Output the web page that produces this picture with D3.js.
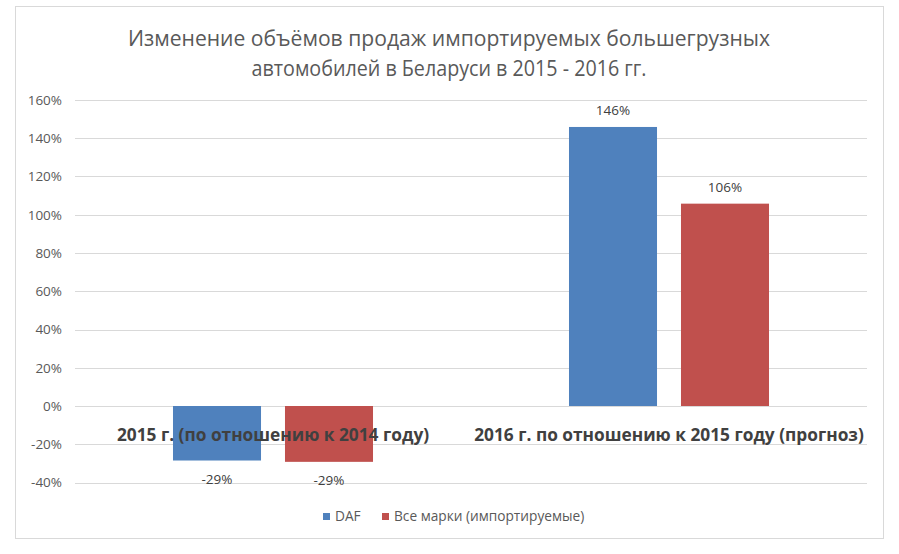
<!DOCTYPE html>
<html><head><meta charset="utf-8">
<script src="https://cdn.jsdelivr.net/npm/d3@7"></script>
<style>
body{margin:0;background:#fff;}
text{font-family:"Open Sans",sans-serif;}
</style></head>
<body><svg id="c" width="899" height="554"></svg>
<script>
const categories = ["2015 г. (по отношению к 2014 году)", "2016 г. по отношению к 2015 году (прогноз)"];
const seriesNames = ["DAF", "Все марки (импортируемые)"];
const dafValues = [-28.5, 145.9];
const allValues = [-29.2, 105.8];
const dataLabels = [["-29%", "146%"], ["-29%", "106%"]];
const yTicks = [-40, -20, 0, 20, 40, 60, 80, 100, 120, 140, 160];
const titleLines = ["Изменение объёмов продаж импортируемых большегрузных", "автомобилей в Беларуси в 2015 - 2016 гг."];
const colors = ["#4F81BD", "#C0504D"];

const svg = d3.select("#c");
svg.append("rect").attr("x",15.5).attr("y",6.5).attr("width",868).attr("height",532)
  .attr("fill","#fff").attr("stroke","#d9d9d9");

const x0 = d3.scaleBand().domain(categories).range([75, 867]).paddingInner(0).paddingOuter(0);
const x1 = d3.scaleBand().domain(seriesNames).range([0, x0.bandwidth()]).paddingInner(0.214).paddingOuter(0.875);
const y = d3.scaleLinear().domain([-40, 160]).range([482.5, 100.0]);

// gridlines
svg.append("g").selectAll("line").data(yTicks).join("line")
  .attr("x1",75).attr("x2",867).attr("y1",d=>Math.round(y(d))+0.5).attr("y2",d=>Math.round(y(d))+0.5)
  .attr("stroke","#d9d9d9").attr("stroke-width",1);

const yAxis = d3.axisLeft(y).tickValues(yTicks).tickFormat(d=>d+"%").tickSize(0).tickPadding(0);
const ya = svg.append("g").attr("transform","translate(62,0)").call(yAxis);
ya.select(".domain").remove();
ya.selectAll("text").attr("font-size","13.5px").attr("fill","#595959").attr("font-family","'Open Sans',sans-serif");

const series = [dafValues, allValues];
const bars = [];
categories.forEach((c,i)=>{
  series.forEach((vals,j)=>{
    bars.push({c, s:seriesNames[j], v:vals[i], color:colors[j], label:dataLabels[j][i]});
  });
});

svg.append("g").selectAll("rect").data(bars).join("rect")
  .attr("x",d=>x0(d.c)+x1(d.s)).attr("width",x1.bandwidth())
  .attr("y",d=>y(Math.max(0,d.v))).attr("height",d=>Math.abs(y(d.v)-y(0)))
  .attr("fill",d=>d.color);

svg.append("g").selectAll("text").data(bars).join("text")
  .attr("x",d=>x0(d.c)+x1(d.s)+x1.bandwidth()/2)
  .attr("y",d=>d.v>=0 ? y(d.v)-12 : y(d.v)+23)
  .attr("text-anchor","middle").attr("font-size","13.5px").attr("fill","#404040")
  .text(d=>d.label);

// category labels
svg.append("g").selectAll("text").data(categories).join("text")
  .attr("x",d=>x0(d)+x0.bandwidth()/2).attr("y",441)
  .attr("text-anchor","middle").attr("font-size","17.3px").attr("font-weight","bold").attr("fill","#404040")
  .text(d=>d);

// title
const titleWidths = [642, 395];
svg.append("g").selectAll("text").data(titleLines).join("text")
  .attr("x",449).attr("y",(d,i)=>46+i*30)
  .attr("text-anchor","middle").attr("font-size","22px").attr("fill","#595959")
  .attr("textLength",(d,i)=>titleWidths[i]).attr("lengthAdjust","spacingAndGlyphs")
  .text(d=>d);

// legend
const leg = svg.append("g");
const legX = [323, 382];
seriesNames.forEach((n,i)=>{
  leg.append("rect").attr("x",legX[i]).attr("y",513).attr("width",7).attr("height",7).attr("fill",colors[i]);
  leg.append("text").attr("x",legX[i]+12).attr("y",521).attr("font-size","13.7px").attr("fill","#595959").text(n);
});
</script></body></html>
